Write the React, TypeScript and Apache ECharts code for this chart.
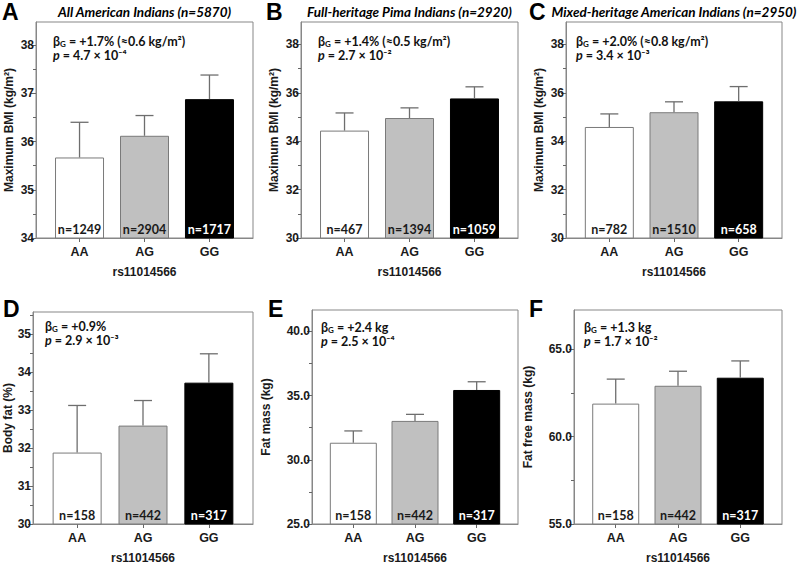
import React, { useEffect, useRef } from 'react';
import * as echarts from 'echarts';

// ---------- data ----------
const genotypes = ['AA', 'AG', 'GG'];
const genotypePos = [0, 1, 2];

const bmiAllMean = [35.67, 36.12, 36.88];
const bmiAllUpper = [36.4, 36.54, 37.38];
const bmiAllN = [1249, 2904, 1717];

const bmiPimaMean = [34.44, 34.96, 35.77];
const bmiPimaUpper = [35.17, 35.38, 36.25];
const bmiPimaN = [467, 1394, 1059];

const bmiMixedMean = [34.59, 35.2, 35.65];
const bmiMixedUpper = [35.13, 35.63, 36.26];
const bmiMixedN = [782, 1510, 658];

const bodyFatMean = [31.88, 32.59, 33.72];
const bodyFatUpper = [33.12, 33.25, 34.48];
const fatMassMean = [31.33, 33.03, 35.44];
const fatMassUpper = [32.25, 33.54, 36.08];
const fatFreeMean = [61.88, 62.9, 63.36];
const fatFreeUpper = [63.28, 63.73, 64.32];
const compN = [158, 442, 317];

const bmiAllTicks = [34, 35, 36, 37, 38];
const bmiAllMinor = [34.5, 35.5, 36.5, 37.5];
const bmiSubTicks = [30, 32, 34, 36, 38];
const bmiSubMinor = [31, 33, 35, 37];
const bodyFatTicks = [30, 31, 32, 33, 34, 35];
const bodyFatMinor = [30.5, 31.5, 32.5, 33.5, 34.5, 35.5];
const fatMassTicks = [25, 30, 35, 40];
const fatMassMinor = [27.5, 32.5, 37.5];
const fatFreeTicks = [55, 60, 65];
const fatFreeMinor = [57.5, 62.5];

const panelLetters = ['A', 'B', 'C', 'D', 'E', 'F'];
const titles = [
  'All American Indians (n=5870)',
  'Full-heritage Pima Indians (n=2920)',
  'Mixed-heritage American Indians (n=2950)',
  '', '', '',
];
const yNames = [
  'Maximum BMI (kg/m²)', 'Maximum BMI (kg/m²)', 'Maximum BMI (kg/m²)',
  'Body fat (%)', 'Fat mass (kg)', 'Fat free mass (kg)',
];
const xName = 'rs11014566';
const betaTexts = ['+1.7% (≈0.6 kg/m²)', '+1.4% (≈0.5 kg/m²)', '+2.0% (≈0.8 kg/m²)', '+0.9%', '+2.4 kg', '+1.3 kg'];
const pTexts = ['4.7 × 10⁻⁴', '2.7 × 10⁻²', '3.4 × 10⁻³', '2.9 × 10⁻³', '2.5 × 10⁻⁴', '1.7 × 10⁻²'];

// ---------- layout / style ----------
const boxes = [
  { left: 36, top: 22, width: 217, height: 216 },
  { left: 301, top: 22, width: 217, height: 216 },
  { left: 566, top: 22, width: 216, height: 216 },
  { left: 33, top: 312, width: 220, height: 215 },
  { left: 312, top: 310, width: 206, height: 216 },
  { left: 574, top: 310, width: 208, height: 216 },
];
const letterPos = [
  { x: 2, y: 0 }, { x: 266, y: 0 }, { x: 529, y: 0 },
  { x: 3, y: 297 }, { x: 268, y: 297 }, { x: 529, y: 297 },
];
const textOffsets = [
  { dx: 17, dy: 12 }, { dx: 17, dy: 12 }, { dx: 10, dy: 12 },
  { dx: 12, dy: 7 }, { dx: 9, dy: 10 }, { dx: 10, dy: 10 },
];
const barWidths = [49, 49, 49, 49, 47, 47];
const nameGaps = [21, 21, 21, 19, 40, 40];
const barFill = ['#ffffff', '#c0c0c0', '#000000'];
const barBorder = ['#7a7a7a', '#7a7a7a', '#000000'];
const nColor = ['#1a1a1a', '#1a1a1a', '#ffffff'];
const frameColor = '#878787';
const errColor = '#6e6e6e';
const ARIAL = '"Liberation Sans", Arial, sans-serif';
const CAL = 'Lato, "Open Sans", sans-serif';

const panels = [
  { mean: bmiAllMean, upper: bmiAllUpper, n: bmiAllN, min: 34, max: 38.48, ticks: bmiAllTicks, minor: bmiAllMinor, dec: 0 },
  { mean: bmiPimaMean, upper: bmiPimaUpper, n: bmiPimaN, min: 30, max: 38.93, ticks: bmiSubTicks, minor: bmiSubMinor, dec: 0 },
  { mean: bmiMixedMean, upper: bmiMixedUpper, n: bmiMixedN, min: 30, max: 38.93, ticks: bmiSubTicks, minor: bmiSubMinor, dec: 0 },
  { mean: bodyFatMean, upper: bodyFatUpper, n: compN, min: 30, max: 35.58, ticks: bodyFatTicks, minor: bodyFatMinor, dec: 0 },
  { mean: fatMassMean, upper: fatMassUpper, n: compN, min: 25, max: 41.67, ticks: fatMassTicks, minor: fatMassMinor, dec: 1 },
  { mean: fatFreeMean, upper: fatFreeUpper, n: compN, min: 55, max: 67.23, ticks: fatFreeTicks, minor: fatFreeMinor, dec: 1 },
];

function buildOption() {
  const grid: any[] = [];
  const xAxis: any[] = [];
  const yAxis: any[] = [];
  const series: any[] = [];
  const graphic: any[] = [];

  panels.forEach((p, i) => {
    const b = boxes[i];
    grid.push({
      left: b.left, top: b.top, width: b.width, height: b.height,
      show: true, borderColor: frameColor, borderWidth: 1, backgroundColor: 'transparent',
    });
    xAxis.push({
      type: 'value', gridIndex: i, min: -0.67, max: 2.67, position: 'bottom',
      splitLine: { show: false },
      axisLine: { show: true, onZero: false, lineStyle: { color: frameColor, width: 1 } },
      axisTick: { show: true, customValues: genotypePos, length: 4, lineStyle: { color: '#666' } },
      axisLabel: {
        customValues: genotypePos,
        formatter: (v: number) => genotypes[Math.round(v)] ?? '',
        fontFamily: ARIAL, fontWeight: 'bold', fontSize: 12.5, color: '#1a1a1a', margin: 7,
      },
      name: xName, nameLocation: 'middle', nameGap: 28,
      nameTextStyle: { fontFamily: ARIAL, fontWeight: 'bold', fontSize: 12, color: '#1a1a1a' },
    });
    yAxis.push({
      type: 'value', gridIndex: i, position: 'left', min: p.min, max: p.max,
      splitLine: { show: false },
      axisLine: { show: true, onZero: false, lineStyle: { color: frameColor, width: 1 } },
      axisTick: { show: true, customValues: p.ticks, length: 5, lineStyle: { color: '#666' } },
      axisLabel: {
        customValues: p.ticks,
        formatter: (v: number) => v.toFixed(p.dec),
        fontFamily: ARIAL, fontWeight: 'bold', fontSize: 12, color: '#1a1a1a', margin: 2,
      },
      name: yNames[i], nameLocation: 'middle', nameGap: nameGaps[i],
      nameTextStyle: { fontFamily: ARIAL, fontWeight: 'bold', fontSize: 12, color: '#1a1a1a' },
    });
    yAxis.push({
      type: 'value', gridIndex: i, position: 'left', min: p.min, max: p.max,
      splitLine: { show: false },
      axisLine: { show: false, onZero: false },
      axisTick: { show: true, customValues: p.minor, length: 3, lineStyle: { color: '#666' } },
      axisLabel: { show: false },
    });
    series.push({
      type: 'bar', xAxisIndex: i, yAxisIndex: i * 2, barWidth: barWidths[i],
      data: p.mean.map((m, k) => ({
        value: [genotypePos[k], m],
        itemStyle: { color: barFill[k], borderColor: barBorder[k], borderWidth: 1 },
        label: {
          show: true, position: 'insideBottom', distance: 3,
          formatter: 'n=' + p.n[k], color: nColor[k],
          fontFamily: CAL, fontWeight: 'bold', fontSize: 12.5,
        },
      })),
    });
    series.push({
      type: 'custom', xAxisIndex: i, yAxisIndex: i * 2,
      encode: { x: 0, y: [1, 2] },
      data: p.mean.map((m, k) => [genotypePos[k], m, p.upper[k]]),
      renderItem: (params: any, api: any) => {
        const x = api.value(0);
        const p0 = api.coord([x, api.value(1)]);
        const p1 = api.coord([x, api.value(2)]);
        const st = { stroke: errColor, lineWidth: 1.3 };
        return {
          type: 'group',
          children: [
            { type: 'line', shape: { x1: p0[0], y1: p0[1], x2: p1[0], y2: p1[1] }, style: st },
            { type: 'line', shape: { x1: p1[0] - 9, y1: p1[1], x2: p1[0] + 9, y2: p1[1] }, style: st },
          ],
        };
      },
      z: 3,
    });

    graphic.push({
      type: 'text', x: letterPos[i].x, y: letterPos[i].y,
      style: { text: panelLetters[i], fontFamily: ARIAL, fontWeight: 'bold', fontSize: 23, fill: '#000', verticalAlign: 'top', align: 'left' },
    });
    if (titles[i]) {
      graphic.push({
        type: 'text', x: b.left + b.width / 2, y: 12,
        style: { text: titles[i], fontFamily: CAL, fontWeight: 'bold', fontStyle: 'italic', fontSize: 13.5, fill: '#000', align: 'center', verticalAlign: 'middle' },
      });
    }
    graphic.push({
      type: 'text', x: b.left + textOffsets[i].dx, y: b.top + textOffsets[i].dy,
      style: {
        text: '{b|β}{s|G}{b| = ' + betaTexts[i] + '}\n{i|p}{b| = ' + pTexts[i] + '}',
        fill: '#111', align: 'left', verticalAlign: 'top',
        rich: {
          b: { fontFamily: CAL, fontWeight: 'bold', fontSize: 12.5, fill: '#111', lineHeight: 14 },
          i: { fontFamily: CAL, fontWeight: 'bold', fontStyle: 'italic', fontSize: 12.5, fill: '#111', lineHeight: 14 },
          s: { fontFamily: CAL, fontWeight: 'bold', fontSize: 8, fill: '#111', lineHeight: 14, verticalAlign: 'bottom' },
        },
      },
    });
  });

  return { animation: false, backgroundColor: '#ffffff', grid, xAxis, yAxis, series, graphic };
}

export default function App() {
  const ref = useRef<HTMLDivElement>(null);
  useEffect(() => {
    if (!ref.current) return;
    const chart = echarts.init(ref.current, null, { renderer: 'svg' });
    chart.setOption(buildOption() as any);
    return () => chart.dispose();
  }, []);
  return (
    <div
      ref={ref}
      style={{ position: 'fixed', left: 0, top: 0, width: 799, height: 565, background: '#fff' }}
    />
  );
}
